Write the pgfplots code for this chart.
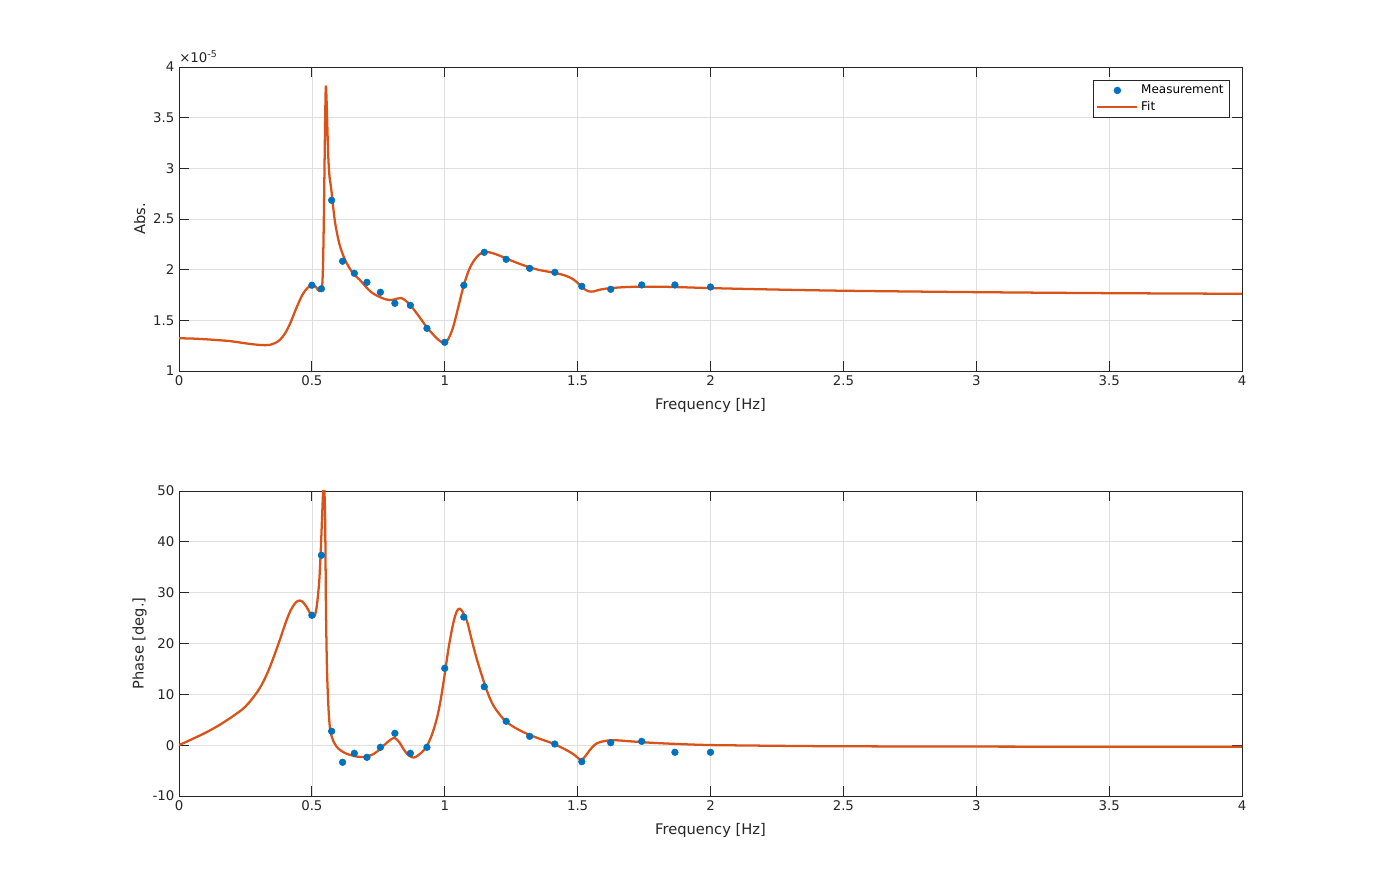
\documentclass[border=0pt]{standalone}
\usepackage{pgfplots}
\pgfplotsset{compat=1.18}
\usepackage{fontspec}
\setmainfont{DejaVu Sans}
\definecolor{mblue}{RGB}{0,114,189}
\definecolor{morange}{RGB}{217,83,25}
\definecolor{axgray}{RGB}{38,38,38}
\definecolor{gridgray}{RGB}{223,223,223}
\pgfplotsset{
  mystyle/.style={
    scale only axis,
    width=797.25pt,
    xmin=0, xmax=4,
    xtick={0,0.5,...,4},
    grid=major,
    major grid style={gridgray, line width=0.5pt},
    axis line style={axgray, line width=0.6pt},
    tick style={axgray, line width=0.6pt},
    tick align=inside,
    major tick length=7.5pt,
    tick label style={font=\fontsize{10}{12}\selectfont, text=axgray},
    /pgf/number format/assume math mode=true,
    xlabel={Frequency [Hz]},
    clip=true,
  },
  marksstyle/.style={only marks, mark=*, mark size=2.5pt, color=mblue,
    mark options={draw=mblue, fill=mblue},
    legend image code/.code={\draw[##1] plot coordinates {(15pt,0pt)};}},
  fitstyle/.style={color=morange, line width=1.7pt, line join=round, smooth, tension=0.55,
    legend image code/.code={\draw[##1, sharp plot] plot coordinates {(0pt,0pt) (30pt,0pt)};}},
}
\begin{document}
\begin{tikzpicture}
\path[use as bounding box, fill=white] (0,0) rectangle (1030.5pt,671.25pt);
% top axis
\begin{axis}[mystyle, name=top,
  at={(134.25pt,393pt)}, anchor=south west,
  height=228pt,
  ymin=1, ymax=4,
  ytick={1,1.5,...,4},
  yticklabels={1,1.5,2,2.5,3,3.5,4},
  ylabel={Abs.},
  every axis y label/.style={at={(axis description cs:-0.037,0.5)}, rotate=90, anchor=center, font=\fontsize{11}{13}\selectfont, text=axgray},
  every axis x label/.style={at={(axis description cs:0.5,-0.112)}, anchor=center, font=\fontsize{11}{13}\selectfont, text=axgray},
  legend style={at={(axis description cs:0.988,0.957)}, anchor=north east,
    font=\fontsize{9}{11}\selectfont, draw=axgray, line width=0.5pt,
    inner xsep=2pt, inner ysep=1.5pt, row sep=0pt, cells={anchor=west}},
  legend cell align=left,
]
\addplot[marksstyle] coordinates {
(0.5000,1.846) (0.5359,1.812) (0.5743,2.685) (0.6156,2.083) (0.6598,1.964)
(0.7071,1.875) (0.7579,1.777) (0.8123,1.668) (0.8706,1.648) (0.9330,1.421)
(1.0000,1.283) (1.0718,1.846) (1.1487,2.171) (1.2311,2.102) (1.3195,2.013)
(1.4142,1.974) (1.5157,1.836) (1.6245,1.806) (1.7411,1.849) (1.8661,1.849)
(2.0000,1.829)};
\addlegendentry{Measurement}
\addplot[fitstyle] coordinates {
(0,1.323) (0.05,1.320) (0.10,1.313) (0.15,1.304) (0.192,1.295) (0.23,1.281)
(0.267,1.267) (0.30,1.258) (0.325,1.255) (0.345,1.260) (0.362,1.276) (0.38,1.308)
(0.40,1.375) (0.42,1.48) (0.443,1.630) (0.465,1.755) (0.482,1.815) (0.495,1.840)
(0.505,1.846) (0.515,1.830) (0.523,1.80) (0.529,1.786) (0.535,1.80) (0.539,1.85)
(0.542,2.05) (0.545,2.5) (0.548,3.1) (0.551,3.65) (0.553,3.81) (0.556,3.62)
(0.559,3.34) (0.562,3.10) (0.566,2.93) (0.570,2.85) (0.574,2.77) (0.580,2.62)
(0.586,2.49) (0.593,2.38) (0.605,2.24) (0.618,2.14) (0.636,2.04) (0.656,1.96)
(0.68,1.90) (0.70,1.84) (0.72,1.785) (0.74,1.75) (0.76,1.725) (0.78,1.706)
(0.80,1.700) (0.82,1.714) (0.835,1.72) (0.85,1.70) (0.87,1.65) (0.90,1.55)
(0.93,1.44) (0.96,1.35) (0.98,1.30) (0.995,1.28) (1.01,1.30) (1.03,1.42)
(1.05,1.62) (1.07,1.83) (1.09,1.99) (1.11,2.09) (1.13,2.15) (1.15,2.175)
(1.17,2.17) (1.20,2.145) (1.25,2.09) (1.30,2.04) (1.35,2.00) (1.40,1.975)
(1.45,1.945) (1.48,1.91) (1.50,1.87) (1.52,1.82) (1.54,1.787) (1.56,1.785)
(1.58,1.80) (1.62,1.817) (1.70,1.83) (1.80,1.832) (1.90,1.826) (2.00,1.818)
(2.20,1.806) (2.50,1.792) (3.00,1.778) (3.50,1.768) (4.00,1.762)};
\addlegendentry{Fit}
\end{axis}
\node[anchor=south west, inner sep=0pt, font=\fontsize{10}{12}\selectfont, text=axgray]
  at ([yshift=3pt]top.north west) {×10\textsuperscript{-5}};
% bottom axis
\begin{axis}[mystyle,
  at={(134.25pt,74.25pt)}, anchor=south west,
  height=228.75pt,
  ymin=-10, ymax=50,
  ytick={-10,0,...,50},
  ylabel={Phase [deg.]},
  every axis y label/.style={at={(axis description cs:-0.037,0.5)}, rotate=90, anchor=center, font=\fontsize{11}{13}\selectfont, text=axgray},
  every axis x label/.style={at={(axis description cs:0.5,-0.1115)}, anchor=center, font=\fontsize{11}{13}\selectfont, text=axgray},
]
\addplot[marksstyle] coordinates {
(0.5000,25.55) (0.5359,37.35) (0.5743,2.73) (0.6156,-3.37) (0.6598,-1.6)
(0.7071,-2.39) (0.7579,-0.42) (0.8123,2.33) (0.8706,-1.6) (0.9330,-0.42)
(1.0000,15.12) (1.0718,25.2) (1.1487,11.5) (1.2311,4.7) (1.3195,1.74)
(1.4142,0.23) (1.5157,-3.25) (1.6245,0.49) (1.7411,0.75) (1.8661,-1.4)
(2.0000,-1.4)};
\addplot[fitstyle] coordinates {
(0,0) (0.05,1.2) (0.10,2.45) (0.15,3.9) (0.20,5.6) (0.25,7.6) (0.30,10.9)
(0.336,14.6) (0.374,19.9) (0.40,23.9) (0.42,26.5) (0.44,28.1) (0.455,28.45)
(0.467,28.1) (0.48,27.2) (0.495,25.8) (0.505,25.2) (0.512,25.6) (0.518,27.2)
(0.523,29.5) (0.528,32.5) (0.533,37.7) (0.538,44.3) (0.542,49.5) (0.5455,51.5)
(0.549,47) (0.551,39) (0.553,27) (0.556,17) (0.559,11.5) (0.563,6.8)
(0.568,3.4) (0.574,1.8) (0.58,0.9) (0.593,-0.3) (0.61,-1.1) (0.631,-1.7)
(0.65,-2.0) (0.669,-2.25) (0.70,-2.3) (0.73,-1.8) (0.756,-0.8) (0.78,0.4)
(0.80,1.2) (0.813,1.4) (0.83,0.5) (0.845,-0.8) (0.86,-1.8) (0.875,-2.35)
(0.884,-2.45) (0.90,-2.0) (0.915,-1.3) (0.93,-0.4) (0.95,1.8) (0.97,5.2)
(0.985,9.0) (1.0,14.0) (1.015,19.3) (1.032,24.0) (1.045,26.3) (1.055,26.85)
(1.065,26.4) (1.083,24.5) (1.10,21.0) (1.117,17.6) (1.133,14.8) (1.158,10.8)
(1.183,7.8) (1.22,5.2) (1.25,3.9) (1.283,2.9) (1.32,2.0) (1.36,1.2)
(1.408,0.3) (1.459,-1.0) (1.49,-2.0) (1.511,-2.9) (1.525,-2.4) (1.547,-0.9)
(1.565,0.1) (1.584,0.6) (1.62,0.95) (1.65,0.95) (1.70,0.75) (1.785,0.45)
(1.90,0.18) (2.0,0.02) (2.11,-0.05) (2.3,-0.15) (2.5,-0.22) (3.0,-0.28)
(3.5,-0.3) (4.0,-0.3)};
\end{axis}
\end{tikzpicture}
\end{document}
